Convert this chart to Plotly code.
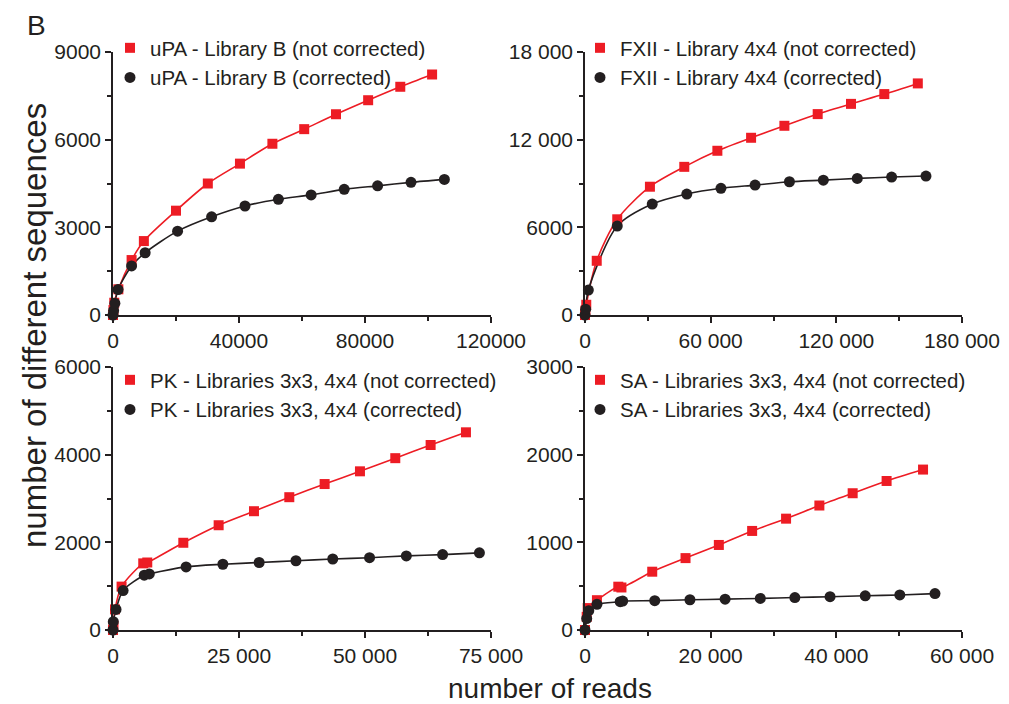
import plotly.graph_objects as go

# ---------------- data ----------------
uPA_nc_x = [0, 150, 400, 1700, 5900, 9800, 20000, 30100, 40300, 50600, 60700, 70800, 81000, 91200, 101300]
uPA_nc_y = [0, 170, 420, 880, 1880, 2530, 3570, 4500, 5180, 5860, 6360, 6870, 7350, 7810, 8230]
uPA_c_x = [0, 200, 600, 1600, 5900, 10200, 20500, 31300, 41900, 52500, 62900, 73400, 84000, 94600, 105200]
uPA_c_y = [0, 150, 400, 870, 1680, 2130, 2870, 3360, 3730, 3960, 4110, 4300, 4420, 4540, 4640]

FXII_nc_x = [0, 200, 600, 5600, 15400, 31000, 47400, 63200, 79300, 95200, 111100, 127000, 142900, 158900]
FXII_nc_y = [0, 300, 700, 3710, 6550, 8780, 10140, 11240, 12130, 12950, 13750, 14450, 15120, 15850]
FXII_c_x = [0, 300, 1600, 15400, 32100, 48600, 64900, 81200, 97600, 113800, 130000, 146400, 162800]
FXII_c_y = [0, 400, 1710, 6090, 7590, 8280, 8670, 8890, 9120, 9230, 9350, 9440, 9510]

PK_nc_x = [0, 100, 400, 1700, 6000, 6800, 13950, 20960, 27970, 34980, 41990, 49000, 56010, 63020, 70030]
PK_nc_y = [0, 100, 470, 990, 1520, 1540, 1990, 2390, 2710, 3030, 3330, 3620, 3920, 4220, 4510]
PK_c_x = [0, 60, 600, 2000, 6200, 7200, 14500, 21800, 29000, 36300, 43600, 50900, 58200, 65400, 72700]
PK_c_y = [0, 190, 470, 900, 1250, 1280, 1440, 1500, 1540, 1580, 1620, 1650, 1690, 1720, 1760]

SA_nc_x = [0, 270, 430, 1900, 5300, 5800, 10700, 16000, 21300, 26600, 32000, 37300, 42600, 48000, 53800]
SA_nc_y = [0, 150, 250, 340, 494, 485, 665, 820, 970, 1130, 1270, 1420, 1560, 1700, 1830]
SA_c_x = [0, 270, 600, 1900, 5600, 6000, 11100, 16700, 22300, 27900, 33400, 39000, 44600, 50100, 55700]
SA_c_y = [0, 130, 220, 293, 323, 330, 335, 345, 352, 360, 370, 380, 390, 400, 415]

panels = [
    dict(name="uPA - Library B", xnc=uPA_nc_x, ync=uPA_nc_y, xc=uPA_c_x, yc=uPA_c_y,
         xt=[0, 40000, 80000, 120000], xl=["0", "40000", "80000", "120000"], xminor=[20000, 60000, 100000],
         yt=[0, 3000, 6000, 9000], yl=["0", "3000", "6000", "9000"], yminor=[1500, 4500, 7500]),
    dict(name="FXII - Library 4x4", xnc=FXII_nc_x, ync=FXII_nc_y, xc=FXII_c_x, yc=FXII_c_y,
         xt=[0, 60000, 120000, 180000], xl=["0", "60 000", "120 000", "180 000"], xminor=[30000, 90000, 150000],
         yt=[0, 6000, 12000, 18000], yl=["0", "6000", "12 000", "18 000"], yminor=[3000, 9000, 15000]),
    dict(name="PK - Libraries 3x3, 4x4", xnc=PK_nc_x, ync=PK_nc_y, xc=PK_c_x, yc=PK_c_y,
         xt=[0, 25000, 50000, 75000], xl=["0", "25 000", "50 000", "75 000"], xminor=[12500, 37500, 62500],
         yt=[0, 2000, 4000, 6000], yl=["0", "2000", "4000", "6000"], yminor=[1000, 3000, 5000]),
    dict(name="SA - Libraries 3x3, 4x4", xnc=SA_nc_x, ync=SA_nc_y, xc=SA_c_x, yc=SA_c_y,
         xt=[0, 20000, 40000, 60000], xl=["0", "20 000", "40 000", "60 000"], xminor=[10000, 30000, 50000],
         yt=[0, 1000, 2000, 3000], yl=["0", "1000", "2000", "3000"], yminor=[500, 1500, 2500]),
]

RED = "#ED1C24"
BLK = "#231F20"
OFF = 8                      # default page body margin
W, H = 1009 - OFF, 704 - OFF  # figure size so it fits the window
FONT = "Liberation Sans, Arial, sans-serif"


def fx(px):
    return (px - OFF) / W


def fy(py):
    return 1 - (py - OFF) / H


# window-pixel boxes of plotting areas (left, right, top, bottom)
boxes = [(113, 491, 52, 315), (585, 962, 52, 315), (113, 491, 367, 630), (585, 962, 367, 630)]
# legend anchor (left, top) in window pixels
legpos = [(110, 28), (580, 28), (110, 360), (580, 360)]

fig = go.Figure()
layout = dict(width=W, height=H, margin=dict(l=0, r=0, t=0, b=0, autoexpand=False),
              paper_bgcolor="white", plot_bgcolor="white",
              font=dict(family=FONT, color=BLK), showlegend=True)

for i, (p, b, lp) in enumerate(zip(panels, boxes, legpos)):
    k = "" if i == 0 else str(i + 1)
    lg = "legend" if i == 0 else f"legend{i + 1}"
    common = dict(xaxis="x" + k, yaxis="y" + k)
    # fitted curves (no legend)
    fig.add_trace(go.Scatter(x=p["xnc"], y=p["ync"], mode="lines", showlegend=False, hoverinfo="skip",
                             line=dict(color=RED, width=1.6, shape="spline", smoothing=0.8), **common))
    fig.add_trace(go.Scatter(x=p["xc"], y=p["yc"], mode="lines", showlegend=False, hoverinfo="skip",
                             line=dict(color=BLK, width=1.6, shape="spline", smoothing=0.8), **common))
    # markers
    fig.add_trace(go.Scatter(x=p["xnc"], y=p["ync"], mode="markers",
                             name=p["name"] + " (not corrected)",
                             marker=dict(symbol="square", size=10, color=RED),
                             cliponaxis=False, legend=lg, **common))
    fig.add_trace(go.Scatter(x=p["xc"], y=p["yc"], mode="markers",
                             name=p["name"] + " (corrected)",
                             marker=dict(symbol="circle", size=11, color=BLK),
                             cliponaxis=False, legend=lg, **common))
    l, r, t, bt = b
    axstyle = dict(showgrid=False, zeroline=False, showline=True, linecolor=BLK, linewidth=1.5,
                   ticks="outside", ticklen=6, tickwidth=1.5, tickcolor=BLK, automargin=False,
                   tickfont=dict(size=21, family=FONT, color=BLK))
    layout["xaxis" + k] = dict(axstyle, domain=[fx(l), fx(r)], range=[0, p["xt"][-1]],
                               tickmode="array", tickvals=p["xt"], ticktext=p["xl"],
                               minor=dict(tickmode="array", tickvals=p["xminor"], ticks="outside",
                                          ticklen=4, tickwidth=1.5, tickcolor=BLK),
                               anchor="y" + k)
    layout["yaxis" + k] = dict(axstyle, domain=[fy(bt), fy(t)], range=[0, p["yt"][-1]],
                               tickmode="array", tickvals=p["yt"], ticktext=p["yl"],
                               minor=dict(tickmode="array", tickvals=p["yminor"], ticks="outside",
                                          ticklen=4, tickwidth=1.5, tickcolor=BLK),
                               anchor="x" + k)
    layout[lg] = dict(x=fx(lp[0]), y=fy(lp[1]), xanchor="left", yanchor="top",
                      bgcolor="rgba(0,0,0,0)", font=dict(size=20.5, family=FONT, color=BLK),
                      tracegroupgap=0, itemwidth=30)

layout["annotations"] = [
    dict(text="B", x=fx(36), y=fy(OFF), xref="paper", yref="paper", showarrow=False,
         font=dict(size=28, family=FONT, color=BLK), xanchor="center", yanchor="top"),
    dict(text="number of different sequences", x=fx(34), y=fy(326), xref="paper", yref="paper",
         showarrow=False, textangle=-90, font=dict(size=33, family=FONT, color=BLK),
         xanchor="center", yanchor="middle"),
    dict(text="number of reads", x=fx(550), y=fy(688), xref="paper", yref="paper",
         showarrow=False, font=dict(size=28, family=FONT, color=BLK),
         xanchor="center", yanchor="middle"),
]

fig.update_layout(**layout)
fig.write_html("out.html")
